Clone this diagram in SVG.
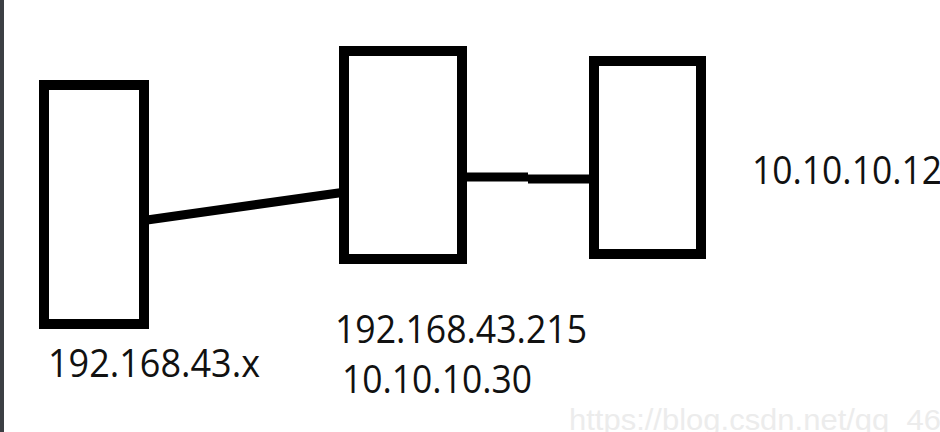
<svg xmlns="http://www.w3.org/2000/svg" width="940" height="432" viewBox="0 0 940 432">
<style>
.box{fill:#fff;stroke:#000;stroke-width:10}
.wire{fill:none;stroke:#000;stroke-width:9}
.lbl{font-family:"Open Sans","Noto Sans",Arial,sans-serif;font-size:39px;fill:#111}
.wm{font-family:"Liberation Sans",Arial,sans-serif;font-size:29px;fill:#ececec}
</style>
<rect x="0" y="0" width="940" height="432" fill="#fff"/>
<rect x="0" y="0" width="4" height="432" fill="#3c3f44"/>
<g id="connectors">
<line class="wire" x1="147" y1="220" x2="342" y2="192.5"/>
<path class="wire" d="M464 177 H528 M528 179 H592"/>
</g>
<g id="node-left">
<rect class="box" x="44" y="85" width="100" height="239"/>
<text class="lbl" x="48" y="377" textLength="212" lengthAdjust="spacingAndGlyphs">192.168.43.x</text>
</g>
<g id="node-middle">
<rect class="box" x="344" y="51" width="118" height="208"/>
<text class="lbl" x="335" y="343" textLength="252" lengthAdjust="spacingAndGlyphs">192.168.43.215</text>
<text class="lbl" x="342" y="393" textLength="190" lengthAdjust="spacingAndGlyphs">10.10.10.30</text>
</g>
<g id="node-right">
<rect class="box" x="594" y="61" width="107" height="193"/>
<text class="lbl" x="752" y="184" textLength="190" lengthAdjust="spacingAndGlyphs">10.10.10.12</text>
</g>
<text class="wm" x="569" y="430" textLength="372" lengthAdjust="spacingAndGlyphs">https://blog.csdn.net/qq_46</text>
</svg>
